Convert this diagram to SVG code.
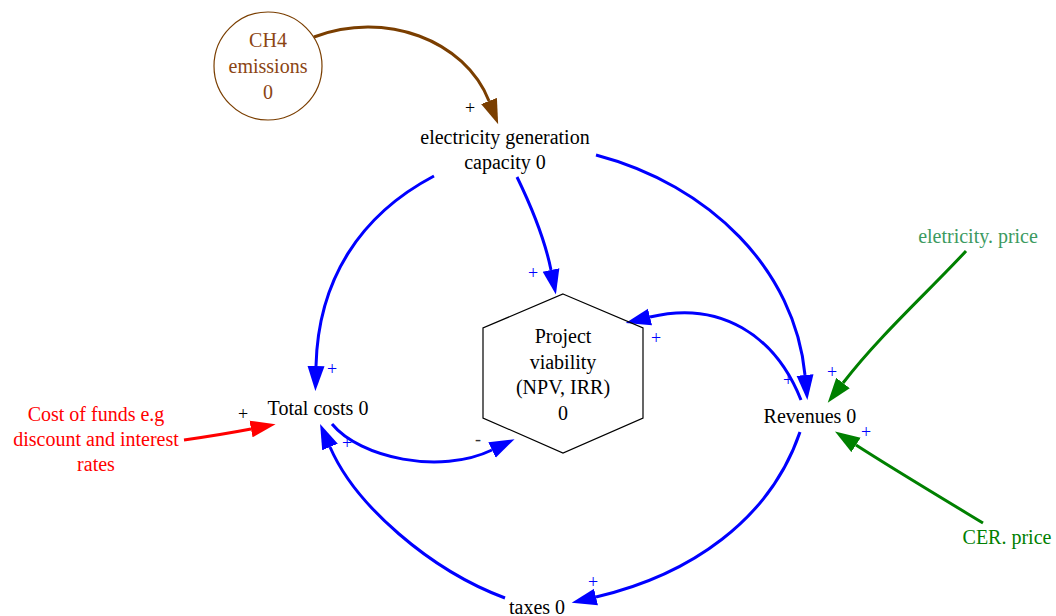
<svg xmlns="http://www.w3.org/2000/svg" width="1056" height="616" viewBox="0 0 1056 616">
  <defs>
    <marker id="ah-blue" viewBox="0 -9 26 18" refX="0" refY="0" markerWidth="26" markerHeight="18" markerUnits="userSpaceOnUse" orient="auto">
      <path d="M0,-8.5 L25,0 L0,8.5 Z" fill="#0000ff"/>
    </marker>
    <marker id="ah-brown" viewBox="0 -9 26 18" refX="0" refY="0" markerWidth="26" markerHeight="18" markerUnits="userSpaceOnUse" orient="auto">
      <path d="M0,-8.5 L25,0 L0,8.5 Z" fill="#7a3e00"/>
    </marker>
    <marker id="ah-red" viewBox="0 -9 26 18" refX="0" refY="0" markerWidth="26" markerHeight="18" markerUnits="userSpaceOnUse" orient="auto">
      <path d="M0,-8.5 L25,0 L0,8.5 Z" fill="#ff0000"/>
    </marker>
    <marker id="ah-green" viewBox="0 -9 26 18" refX="0" refY="0" markerWidth="26" markerHeight="18" markerUnits="userSpaceOnUse" orient="auto">
      <path d="M0,-8.5 L25,0 L0,8.5 Z" fill="#008000"/>
    </marker>
  </defs>
  <style>
    text { font-family: "Liberation Serif", "Times New Roman", Times, "DejaVu Serif", serif; font-size: 20px; text-anchor: middle; }
    .lbl { fill: #000000; }
    .pol { font-size: 18px; }
    .pos { fill: #0000ff; }
    .blk { fill: #000000; }
    .edge { fill: none; stroke-width: 3; }
    .blue { stroke: #0000ff; marker-end: url(#ah-blue); }
    .brown { stroke: #7a3e00; marker-end: url(#ah-brown); }
    .red { stroke: #ff0000; marker-end: url(#ah-red); }
    .green { stroke: #008000; marker-end: url(#ah-green); }
  </style>
  <rect width="1056" height="616" fill="#ffffff"/>

  <!-- connectors -->
  <g id="connectors">
    <path class="edge brown" d="M314,37 C385,10 465,40 489,101"/>
    <path class="edge blue" d="M434,176 C360,215 318,280 316,366"/>
    <path class="edge blue" d="M517,177 C533,210 545,240 551,270"/>
    <path class="edge blue" d="M596,155 C710,185 795,270 805,375"/>
    <path class="edge blue" d="M801,400 C775,335 720,300 650,317"/>
    <path class="edge blue" d="M800,432 C770,520 690,575 596,597"/>
    <path class="edge blue" d="M505,598 C430,570 355,505 330,447"/>
    <path class="edge blue" d="M332,424 C360,458 440,475 492,450"/>
    <path class="edge red" d="M184,440 C205,437 230,433 251,429"/>
    <path class="edge green" d="M966,251 C930,290 880,335 843,383"/>
    <path class="edge green" d="M983,523 C940,497 890,467 856,445"/>

    <!-- polarity labels -->
    <text class="pol blk" x="470" y="114">+</text>
    <text class="pol pos" x="533" y="279">+</text>
    <text class="pol pos" x="332" y="375">+</text>
    <text class="pol pos" x="656" y="344">+</text>
    <text class="pol pos" x="788" y="386">+</text>
    <text class="pol pos" x="832" y="378">+</text>
    <text class="pol pos" x="866" y="438">+</text>
    <text class="pol pos" x="347" y="449">+</text>
    <text class="pol pos" x="593" y="588">+</text>
    <text class="pol blk" x="243" y="420">+</text>
    <text class="pol" x="478" y="445" fill="#333333">-</text>
  </g>

  <g id="ch4">
    <circle cx="268" cy="66" r="54" fill="none" stroke="#7a3e00" stroke-width="1.2"/>
    <text x="268" y="47" fill="#8b4513">CH4</text>
    <text x="268" y="73" fill="#8b4513">emissions</text>
    <text x="268" y="99" fill="#8b4513">0</text>
  </g>

  <g id="capacity">
    <text class="lbl" x="505" y="144">electricity generation</text>
    <text class="lbl" x="505" y="169">capacity 0</text>
  </g>

  <g id="viability">
    <polygon points="563,294 643,328 643,418 563,453 483,418 483,328" fill="none" stroke="#000000" stroke-width="1.2"/>
    <text class="lbl" x="563" y="343">Project</text>
    <text class="lbl" x="563" y="368.5">viability</text>
    <text class="lbl" x="563" y="394">(NPV, IRR)</text>
    <text class="lbl" x="563" y="419.5">0</text>
  </g>

  <g id="total-costs">
    <text class="lbl" x="318" y="415">Total costs 0</text>
  </g>

  <g id="cost-of-funds">
    <text x="96" y="421" fill="#ff0000">Cost of funds e.g</text>
    <text x="96" y="446" fill="#ff0000">discount and interest</text>
    <text x="96" y="471" fill="#ff0000">rates</text>
  </g>

  <g id="revenues">
    <text class="lbl" x="810" y="423">Revenues 0</text>
  </g>

  <g id="taxes">
    <text class="lbl" x="537" y="614">taxes 0</text>
  </g>

  <g id="electricity-price">
    <text x="978" y="243" fill="#3c9a5f">eletricity. price</text>
  </g>

  <g id="cer-price">
    <text x="1007" y="544" fill="#008000">CER. price</text>
  </g>
</svg>
